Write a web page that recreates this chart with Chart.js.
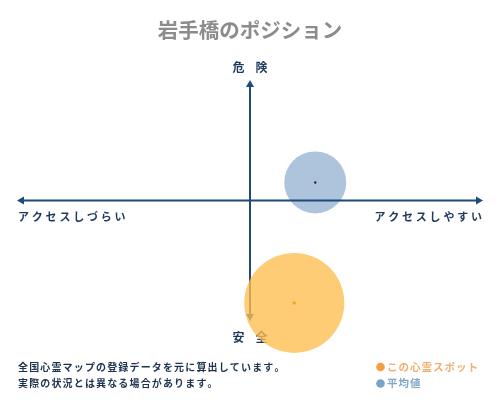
<!DOCTYPE html>
<html>
<head>
<meta charset="utf-8">
<script src="https://cdn.jsdelivr.net/npm/chart.js@4/dist/chart.umd.min.js"></script>
<style>
html,body{margin:0;padding:0;background:#fff;}
#wrap{width:500px;height:400px;position:relative;}
</style>
</head>
<body>
<div id="wrap"><canvas id="c" width="500" height="400"></canvas></div>
<script>
// ---- data ----
const titleText = '岩手橋のポジション';
const seriesLabels = ['この心霊スポット', '平均値'];
const xValues = [1.9, 2.8];      // アクセス (しづらい -10 … しやすい +10)
const yValues = [-8.5, 1.5];     // 危険度 (安全 -10 … 危険 +10)
const bubbleSizes = [50, 31];
const axisTop = '危険';
const axisBottom = '安全';
const axisLeft = 'アクセスしづらい';
const axisRight = 'アクセスしやすい';
const noteLines = ['全国心霊マップの登録データを元に算出しています。', '実際の状況とは異なる場合があります。'];

const FONT = '"Noto Sans CJK JP", "Noto Sans", sans-serif';
const AXIS_COLOR = '#1d4a78';
const LABEL_COLOR = '#1e3a5c';
const fills = ['rgba(255,190,80,0.78)', 'rgba(170,192,218,0.95)'];
const legendDot = ['#f0a040', '#7aa3c8'];
const legendText = ['#eeb070', '#80a6c8'];
const centerDot = ['#f5a020', '#1a2a3a'];

function drawSpaced(ctx, text, x, y, align, spacing) {
  const chars = Array.from(text);
  const widths = chars.map(ch => ctx.measureText(ch).width);
  const total = widths.reduce((a, b) => a + b, 0) + spacing * (chars.length - 1);
  let start = x;
  if (align === 'center') start = x - total / 2;
  else if (align === 'right') start = x - total;
  ctx.textAlign = 'left';
  let cx = start;
  chars.forEach((ch, i) => { ctx.fillText(ch, cx, y); cx += widths[i] + spacing; });
}

const axesPlugin = {
  id: 'axesPlugin',
  beforeDatasetDraw(chart, args) {
    if (args.index !== 0) return;
    const ctx = chart.ctx;
    const xs = chart.scales.x, ys = chart.scales.y;
    const x0 = xs.getPixelForValue(0), y0 = ys.getPixelForValue(0);
    const left = xs.getPixelForValue(xs.min), right = xs.getPixelForValue(xs.max);
    const top = ys.getPixelForValue(ys.max), bottom = ys.getPixelForValue(ys.min);
    ctx.save();
    ctx.strokeStyle = AXIS_COLOR;
    ctx.fillStyle = AXIS_COLOR;
    ctx.lineWidth = 2;
    const ah = 7, aw = 4;
    // horizontal
    ctx.beginPath(); ctx.moveTo(left + 3, y0); ctx.lineTo(right - 3, y0); ctx.stroke();
    ctx.beginPath(); ctx.moveTo(left, y0); ctx.lineTo(left + ah, y0 - aw); ctx.lineTo(left + ah, y0 + aw); ctx.closePath(); ctx.fill();
    ctx.beginPath(); ctx.moveTo(right, y0); ctx.lineTo(right - ah, y0 - aw); ctx.lineTo(right - ah, y0 + aw); ctx.closePath(); ctx.fill();
    // vertical
    ctx.beginPath(); ctx.moveTo(x0, top + 3); ctx.lineTo(x0, bottom - 3); ctx.stroke();
    ctx.beginPath(); ctx.moveTo(x0, top); ctx.lineTo(x0 - aw, top + ah); ctx.lineTo(x0 + aw, top + ah); ctx.closePath(); ctx.fill();
    ctx.beginPath(); ctx.moveTo(x0, bottom); ctx.lineTo(x0 - aw, bottom - ah); ctx.lineTo(x0 + aw, bottom - ah); ctx.closePath(); ctx.fill();
    // labels
    ctx.fillStyle = LABEL_COLOR;
    ctx.textBaseline = 'middle';
    ctx.font = 'bold 12px ' + FONT;
    drawSpaced(ctx, axisTop, x0, top - 13, 'center', 11);
    drawSpaced(ctx, axisBottom, x0, bottom + 16, 'center', 11);
    ctx.font = 'bold 11px ' + FONT;
    drawSpaced(ctx, axisLeft, left + 1, y0 + 16, 'left', 2.8);
    drawSpaced(ctx, axisRight, right - 1, y0 + 16, 'right', 2.8);
    ctx.restore();
  },
  afterDraw(chart) {
    const ctx = chart.ctx;
    ctx.save();
    ctx.textBaseline = 'middle';
    ctx.font = 'bold 10px ' + FONT;
    ctx.fillStyle = '#1e3350';
    noteLines.forEach((t, i) => drawSpaced(ctx, t, 18, 367 + i * 16.5, 'left', 1.15));
    seriesLabels.forEach((t, i) => {
      const y = 367 + i * 16.5;
      ctx.fillStyle = legendDot[i];
      ctx.beginPath(); ctx.arc(380.5, y, 4.3, 0, Math.PI * 2); ctx.fill();
      ctx.fillStyle = legendText[i];
      ctx.font = 'bold 10.5px ' + FONT;
      drawSpaced(ctx, t, 387, y, 'left', 1.0);
    });
    ctx.restore();
  }
};

const bubbleSets = seriesLabels.map((lab, i) => ({
  type: 'bubble',
  label: lab,
  data: [{ x: xValues[i], y: yValues[i], r: bubbleSizes[i] }],
  backgroundColor: fills[i],
  borderWidth: 0,
  hoverBorderWidth: 0,
  clip: false,
  order: i
}));
const dotSets = seriesLabels.map((lab, i) => ({
  type: 'scatter',
  label: lab + ' (中心)',
  data: [{ x: xValues[i], y: yValues[i] }],
  backgroundColor: centerDot[i],
  borderWidth: 0,
  pointRadius: i === 0 ? 2 : 1.2,
  pointStyle: i === 0 ? 'rectRot' : 'circle',
  clip: false,
  order: -1
}));

new Chart(document.getElementById('c'), {
  type: 'bubble',
  data: { datasets: [...bubbleSets, ...dotSets] },
  options: {
    responsive: false,
    animation: false,
    events: [],
    layout: { autoPadding: false, padding: { left: 17, right: 17, top: 0, bottom: 79 } },
    scales: {
      x: { type: 'linear', min: -10, max: 10, display: false },
      y: { type: 'linear', min: -10, max: 10, display: false }
    },
    plugins: {
      legend: { display: false },
      tooltip: { enabled: false },
      title: {
        display: true,
        text: titleText,
        color: '#8c8c8c',
        font: { family: FONT, size: 20.5, weight: 'bold', lineHeight: 1.2 },
        padding: { top: 18, bottom: 37.4 }
      }
    }
  },
  plugins: [axesPlugin]
});
</script>
</body>
</html>
